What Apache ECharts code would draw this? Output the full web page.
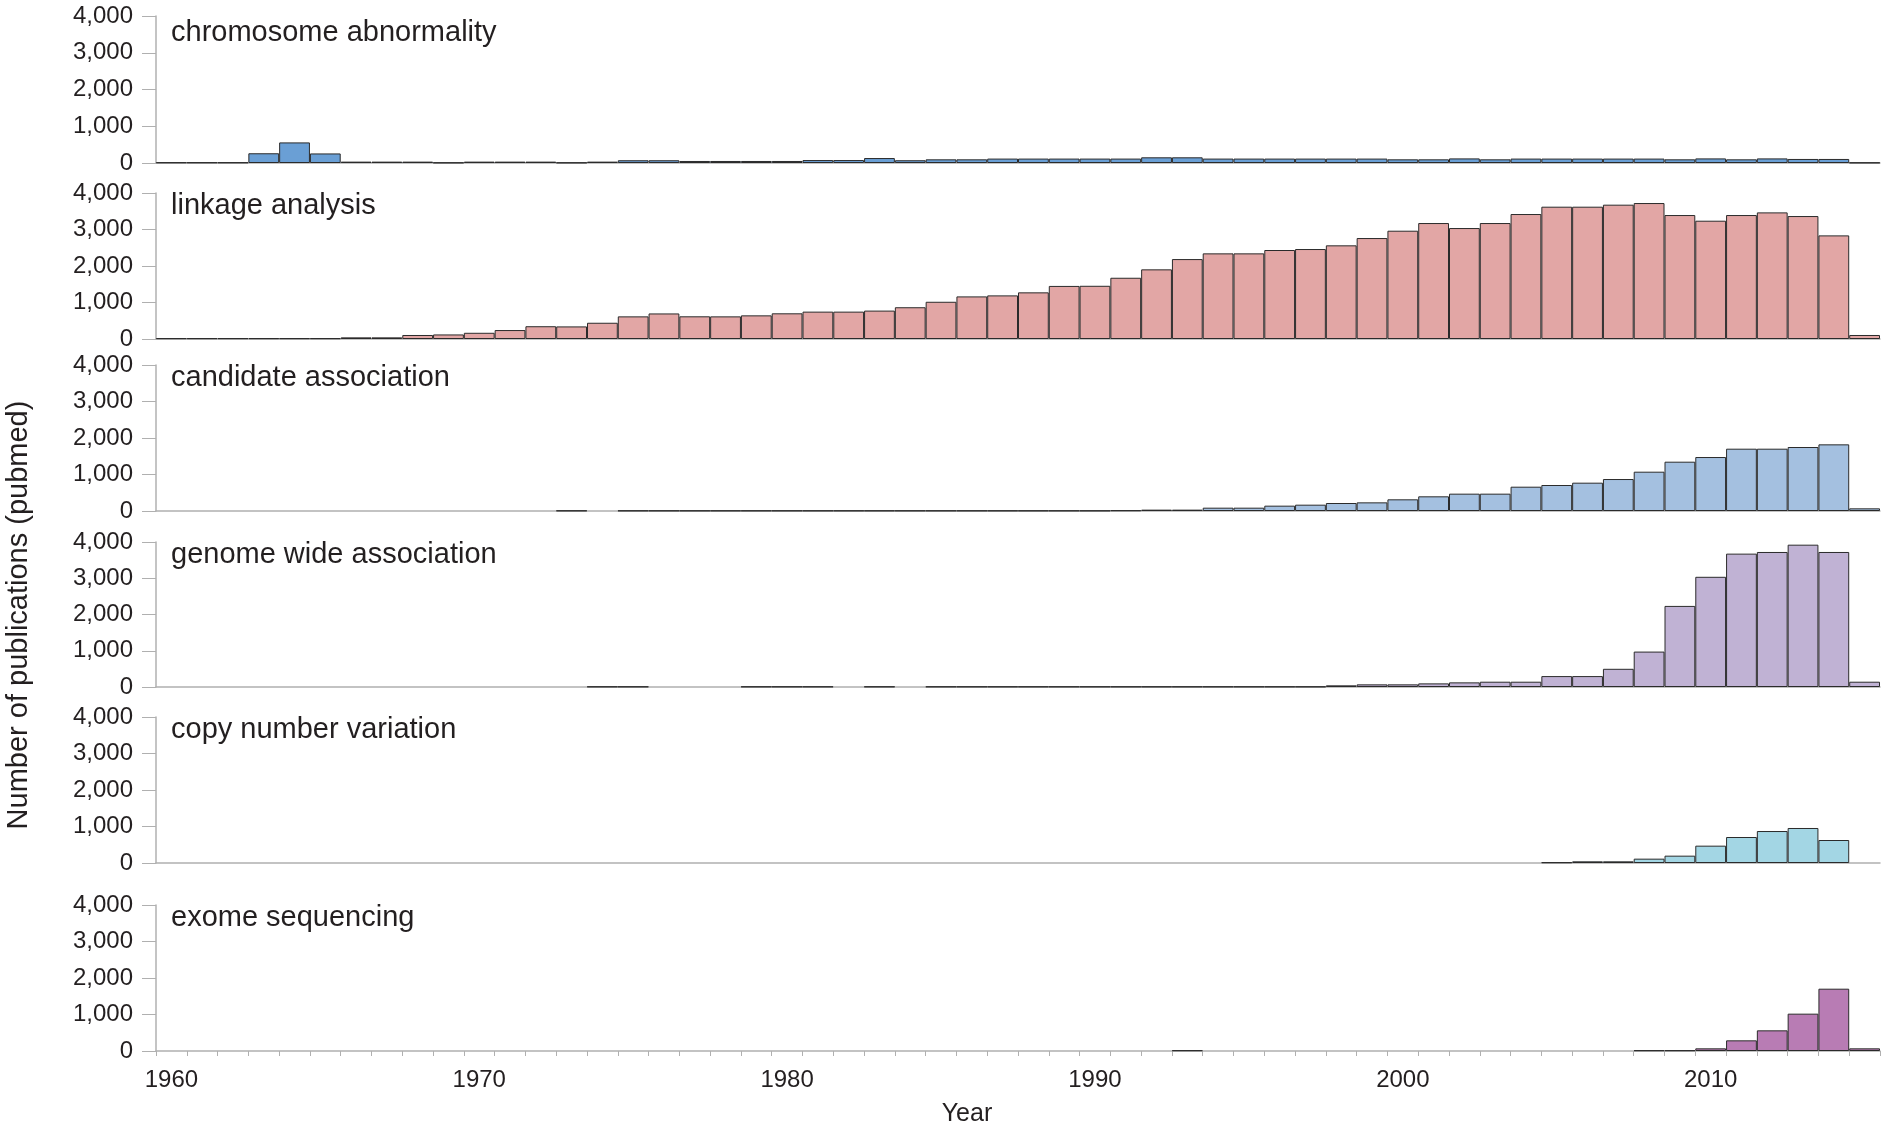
<!DOCTYPE html>
<html>
<head>
<meta charset="utf-8">
<script src="https://cdn.jsdelivr.net/npm/echarts@6/dist/echarts.min.js"></script>
<style>
  html, body { margin: 0; padding: 0; background: #fff; }
  #chart { width: 1884px; height: 1125px; }
</style>
</head>
<body>
<div id="chart"></div>
<script>
// years on the x axis, one bar per year
var years = ['1960','1961','1962','1963','1964','1965','1966','1967','1968','1969',
  '1970','1971','1972','1973','1974','1975','1976','1977','1978','1979',
  '1980','1981','1982','1983','1984','1985','1986','1987','1988','1989',
  '1990','1991','1992','1993','1994','1995','1996','1997','1998','1999',
  '2000','2001','2002','2003','2004','2005','2006','2007','2008','2009',
  '2010','2011','2012','2013','2014','2015'];

var chromosomeAbnormality = [15,15,15,265,560,260,37,37,37,10,
  37,37,37,10,37,75,75,55,55,55,
  55,80,80,135,75,100,100,120,120,120,
  120,120,155,155,120,120,120,120,120,120,
  100,100,125,100,120,120,120,120,120,100,
  125,100,125,110,110,10];

var linkageAnalysis = [20,20,20,20,20,20,45,45,110,125,
  170,245,350,345,445,620,700,622,620,648,
  704,750,750,778,870,1020,1167,1195,1278,1454,
  1458,1678,1908,2190,2346,2346,2438,2465,2566,2766,
  2967,3177,3040,3177,3424,3625,3625,3680,3725,3396,
  3241,3396,3469,3369,2839,110];

var candidateAssociation = [0,0,0,0,0,0,0,0,0,0,
  0,0,0,10,0,10,10,10,10,10,
  10,10,10,10,10,10,10,10,10,10,
  10,18,37,37,91,91,146,173,219,237,
  320,402,475,475,666,712,776,876,1077,1351,
  1479,1707,1707,1753,1826,73];

var genomeWideAssociation = [0,0,0,0,0,0,0,0,0,0,
  0,0,0,0,10,10,0,0,0,10,
  10,10,0,10,0,10,10,10,10,10,
  10,10,10,10,10,10,10,10,46,73,
  73,100,128,146,146,301,301,502,977,2237,
  3040,3679,3725,3926,3725,146];

var copyNumberVariation = [0,0,0,0,0,0,0,0,0,0,
  0,0,0,0,0,0,0,0,0,0,
  0,0,0,0,0,0,0,0,0,0,
  0,0,0,0,0,0,0,0,0,0,
  0,0,0,0,0,18,46,46,119,201,
  475,712,876,959,630,0];

var exomeSequencing = [0,0,0,0,0,0,0,0,0,0,
  0,0,0,0,0,0,0,0,0,0,
  0,0,0,0,0,0,0,0,0,0,
  0,0,0,18,0,0,0,0,0,0,
  0,0,0,0,0,0,0,0,18,18,
  73,292,566,1023,1707,73];

var panelNames = ['chromosome abnormality', 'linkage analysis', 'candidate association',
  'genome wide association', 'copy number variation', 'exome sequencing'];
var panelData = [chromosomeAbnormality, linkageAnalysis, candidateAssociation,
  genomeWideAssociation, copyNumberVariation, exomeSequencing];
var panelColors = ['#6a9fd5', '#e2a6a5', '#a4c0e0', '#c0b2d4', '#a3d6e4', '#b87cb4'];

var panelTops = [16, 193, 365, 542, 717, 905];
var panelHeights = [147, 146, 146, 145, 146, 146];
// the first label sits a little lower than the others
var labelTops = [18, 191, 363, 540, 715, 903];

var FONT = 'Liberation Sans';
var TEXT = '#231f20';
var AXIS = '#b0b0b0';

var chart = echarts.init(document.getElementById('chart'), null, { renderer: 'canvas' });

var grids = [], xAxes = [], yAxes = [], series = [], titles = [];

for (var i = 0; i < panelNames.length; i++) {
  var last = i == panelNames.length - 1;
  grids.push({ left: 156, right: 4, top: panelTops[i], height: panelHeights[i] });

  xAxes.push({
    type: 'category',
    gridIndex: i,
    data: years,
    boundaryGap: true,
    axisLine: { show: true, lineStyle: { color: AXIS, width: 1.5 } },
    axisTick: { show: last, interval: 0, length: 5, lineStyle: { color: AXIS } },
    axisLabel: {
      show: last, interval: 9, margin: 17,
      fontFamily: FONT, fontSize: 24, color: TEXT
    },
    splitLine: { show: false }
  });

  yAxes.push({
    type: 'value',
    gridIndex: i,
    min: 0, max: 4000, interval: 1000,
    axisLine: { show: true, lineStyle: { color: AXIS, width: 1.5 } },
    axisTick: { show: true, length: 14, lineStyle: { color: AXIS } },
    axisLabel: {
      margin: 23, fontFamily: FONT, fontSize: 24, color: TEXT,
      formatter: function (v) { return v.toLocaleString('en-US'); }
    },
    splitLine: { show: false }
  });

  // empty years get no bar, so the grey axis shows through
  var vals = panelData[i].map(function (v) { return v > 0 ? v : '-'; });
  series.push({
    name: panelNames[i],
    type: 'bar',
    xAxisIndex: i,
    yAxisIndex: i,
    data: vals,
    barCategoryGap: '0%',
    itemStyle: { color: panelColors[i], borderColor: '#2b2b2b', borderWidth: 1 },
    emphasis: { disabled: true }
  });

  titles.push({
    text: panelNames[i],
    left: 171,
    top: labelTops[i],
    padding: 0,
    textStyle: { fontFamily: FONT, fontSize: 29, fontWeight: 'normal', color: TEXT }
  });
}

var option = {
  animation: false,
  backgroundColor: '#fff',
  title: titles,
  grid: grids,
  xAxis: xAxes,
  yAxis: yAxes,
  series: series,
  graphic: [
    {
      type: 'text',
      x: 967, y: 1114,
      style: { text: 'Year', fontFamily: FONT, fontSize: 25, fill: TEXT,
        textAlign: 'center', textVerticalAlign: 'middle' }
    },
    {
      type: 'text',
      x: 19, y: 615,
      rotation: Math.PI / 2,
      style: { text: 'Number of publications (pubmed)', fontFamily: FONT, fontSize: 29, fill: TEXT,
        textAlign: 'center', textVerticalAlign: 'middle' }
    }
  ]
};

chart.setOption(option);
</script>
</body>
</html>
